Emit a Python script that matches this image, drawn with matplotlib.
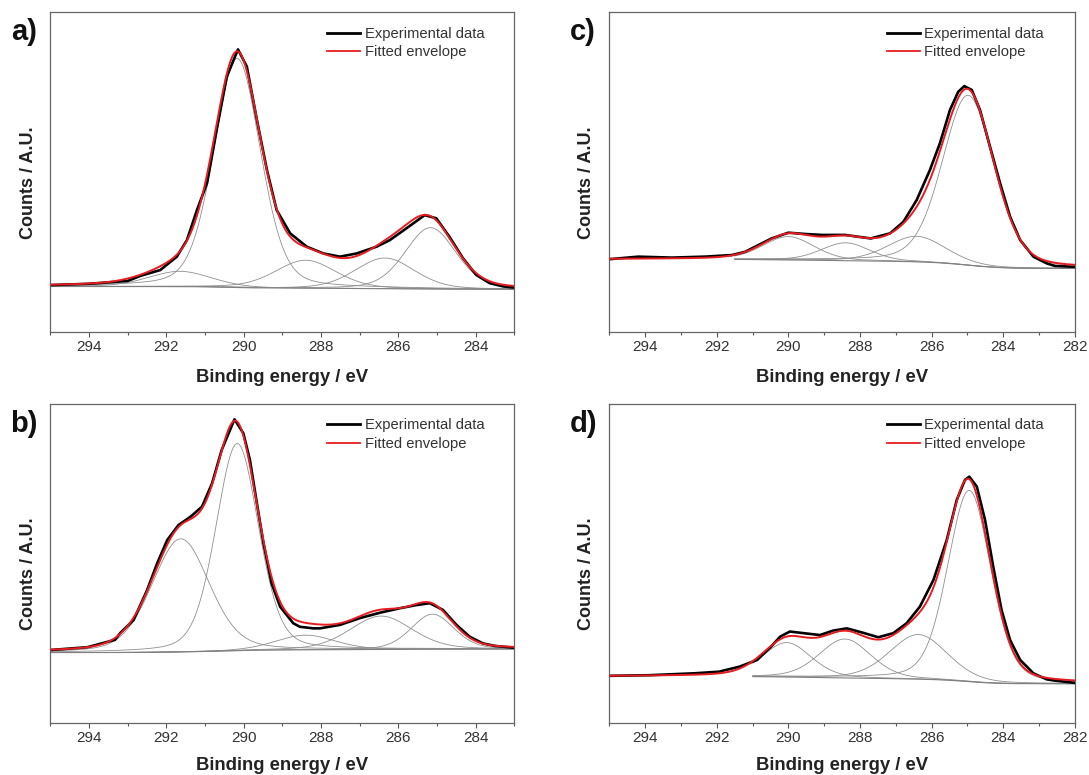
import numpy as np
import matplotlib
matplotlib.use("Agg")
import matplotlib.pyplot as plt
from matplotlib.ticker import MultipleLocator

plt.rcParams['font.family'] = ['Liberation Sans', 'DejaVu Sans']

# ---- panel a ----
a_exp_x = [295.0, 294.0, 293.0, 292.67, 292.16, 291.73, 291.47, 291.21, 290.95, 290.70,
           290.44, 290.15, 289.92, 289.66, 289.40, 289.15, 288.80, 288.37, 287.94, 287.51,
           287.08, 286.57, 286.22, 285.79, 285.32, 285.02, 284.68, 284.33, 283.99, 283.64,
           283.30, 283.00]
a_exp_y = [14.6, 15.0, 15.9, 17.5, 19.3, 23.5, 28.7, 38.1, 46.5, 63.2,
           79.8, 88.4, 83.0, 66.3, 50.6, 38.1, 30.8, 26.6, 24.5, 23.5,
           24.5, 26.6, 28.7, 32.4, 36.5, 35.5, 29.7, 23.0, 17.8, 15.2,
           14.2, 13.8]
a_pos = [291.65, 290.17, 288.4, 286.35, 285.17]
a_height = [4.8, 71.7, 8.8, 9.6, 19.2]
a_fwhm = [1.9, 1.42, 1.85, 1.8, 1.55]
a_bg = [14.15, 13.3]

# ---- panel b ----
b_exp_x = [295.0, 294.04, 293.33, 293.19, 292.85, 292.50, 292.24, 291.98, 291.69, 291.38,
           291.08, 290.82, 290.57, 290.24, 290.01, 289.84, 289.66, 289.49, 289.28, 289.06,
           288.72, 288.55, 288.20, 288.03, 287.51, 287.00, 286.48, 285.97, 285.54, 285.19,
           284.85, 284.50, 284.16, 283.82, 283.51, 283.00]
b_exp_y = [22.8, 23.7, 26.0, 28.2, 32.2, 41.6, 50.0, 57.3, 62.0, 64.6,
           67.8, 75.1, 85.6, 95.2, 90.8, 82.4, 68.8, 56.3, 43.7, 36.4,
           31.2, 30.1, 29.6, 29.6, 30.7, 32.8, 34.5, 35.9, 36.9, 37.5,
           35.4, 30.7, 27.0, 24.9, 24.1, 23.5]
b_pos = [291.63, 290.17, 288.4, 286.45, 285.12]
b_height = [35.5, 65.0, 4.6, 10.5, 11.0]
b_fwhm = [1.75, 1.3, 1.8, 1.9, 1.3]
b_bg = [22.0, 23.1]

# ---- panel c ----
c_exp_x = [295.0, 294.19, 293.26, 292.33, 291.58, 291.21, 290.93, 290.47, 290.0, 289.54,
           289.07, 288.42, 287.70, 287.16, 286.79, 286.42, 286.05, 285.77, 285.49, 285.26,
           285.09, 284.88, 284.65, 284.37, 284.09, 283.81, 283.53, 283.16, 282.79, 282.56,
           282.0]
c_exp_y = [22.7, 23.5, 23.2, 23.5, 24.0, 25.0, 26.6, 29.2, 31.0, 30.6,
           30.3, 30.3, 29.2, 30.8, 34.4, 41.2, 50.6, 59.0, 69.4, 75.1,
           76.9, 75.7, 69.4, 57.9, 46.5, 36.0, 28.7, 23.5, 21.4, 20.6,
           20.3]
c_pos = [290.0, 288.4, 286.42, 284.98]
c_height = [7.3, 5.6, 8.0, 53.2]
c_fwhm = [1.7, 1.6, 1.9, 1.7]
c_bg = [22.65, 19.8]

# ---- panel d ----
d_exp_x = [295.0, 293.88, 292.62, 291.94, 291.36, 290.87, 290.49, 290.23, 289.96, 289.58,
           289.12, 288.75, 288.37, 287.91, 287.49, 287.07, 286.70, 286.33, 285.95, 285.58,
           285.30, 285.07, 284.95, 284.74, 284.51, 284.28, 284.05, 283.81, 283.53, 283.16,
           282.79, 282.56, 282.0]
d_exp_y = [14.7, 14.9, 15.5, 16.0, 17.6, 19.7, 23.8, 27.0, 28.6, 28.1,
           27.5, 28.9, 29.6, 28.2, 26.8, 28.1, 31.2, 36.4, 44.8, 57.3,
           69.9, 76.2, 77.2, 74.1, 63.6, 48.9, 35.4, 25.9, 19.7, 15.5,
           13.6, 13.2, 12.5]
d_pos = [290.05, 288.42, 286.37, 284.95]
d_height = [10.8, 12.2, 14.0, 60.0]
d_fwhm = [1.6, 1.7, 1.9, 1.42]
d_bg = [14.5, 12.2]

lor_mix = 0.25

panels = [
    ('a)', a_exp_x, a_exp_y, a_pos, a_height, a_fwhm, a_bg, (295, 283), (295, 283)),
    ('b)', b_exp_x, b_exp_y, b_pos, b_height, b_fwhm, b_bg, (295, 283), (295, 283)),
    ('c)', c_exp_x, c_exp_y, c_pos, c_height, c_fwhm, c_bg, (295, 282), (291.5, 282)),
    ('d)', d_exp_x, d_exp_y, d_pos, d_height, d_fwhm, d_bg, (295, 282), (291.0, 282)),
]

# axes boxes in figure fractions: left, bottom, width, height
boxes = [
    [0.0463, 0.572, 0.4261, 0.4121],
    [0.0463, 0.0675, 0.4261, 0.4112],
    [0.5595, 0.572, 0.4276, 0.4121],
    [0.5595, 0.0675, 0.4276, 0.4112],
]
xlabel_pad = [11, 8.5, 11, 8.5]


def gl(x, pos, height, fwhm):
    t = (x - pos) / fwhm
    return height * ((1 - lor_mix) * np.exp(-4 * np.log(2) * t ** 2) + lor_mix / (1 + 4 * t ** 2))


fig = plt.figure(figsize=(10.89, 7.75), dpi=100)

for box, lpad, (tag, ex, ey, pos, hts, fw, bg, xlim, win) in zip(boxes, xlabel_pad, panels):
    ax = fig.add_axes(box)
    x = np.linspace(xlim[1], xlim[0], 1500)
    comps = [gl(x, p, h, w) for p, h, w in zip(pos, hts, fw)]
    total = np.sum(comps, axis=0)
    # shirley type step background
    cum = np.concatenate([[0], np.cumsum((total[1:] + total[:-1]) / 2 * np.diff(x))])
    back = bg[1] + (bg[0] - bg[1]) * cum / cum[-1]
    env = total + back

    m = (x <= win[0]) & (x >= win[1])
    for c in comps:
        ax.plot(x[m], (c + back)[m], color='#8f8f8f', lw=0.6, zorder=1)
    ax.plot(x[m], back[m], color='#808080', lw=0.8, zorder=1)

    ax.plot(ex, ey, color='black', lw=1.9, zorder=2, solid_joinstyle='round')
    ax.plot(x, env, color='#e51c20', lw=1.4, zorder=3)

    ax.set_xlim(*xlim)
    ax.set_ylim(0, 100)
    ax.set_yticks([])
    ax.xaxis.set_major_locator(MultipleLocator(2))
    ax.xaxis.set_minor_locator(MultipleLocator(1))
    ax.tick_params(axis='x', which='major', direction='out', length=3.5, width=0.8,
                   colors='#555555', labelcolor='#333333', labelsize=11, pad=2.5)
    ax.tick_params(axis='x', which='minor', direction='out', length=2, width=0.8,
                   colors='#555555')
    for s in ax.spines.values():
        s.set_color('#666666')
        s.set_linewidth(0.9)

    ax.set_xlabel('Binding energy / eV', fontsize=13.3, fontweight='bold', labelpad=lpad,
                  color='#222222')
    ax.set_ylabel('Counts / A.U.', fontsize=13, fontweight='bold', color='#222222')
    ax.yaxis.set_label_coords(-0.03, 0.466)

    h1, = ax.plot([], [], color='black', lw=2.0)
    h2, = ax.plot([], [], color='#e51c20', lw=1.3)
    leg = ax.legend([h1, h2], ['Experimental data', 'Fitted envelope'], loc='upper left',
                    bbox_to_anchor=(0.596, 0.955), frameon=False, fontsize=10.6,
                    handlelength=2.25, handletextpad=0.3, labelspacing=0.3,
                    borderpad=0, borderaxespad=0)
    for t in leg.get_texts():
        t.set_color('#333333')

    fig.text(box[0] - 0.024, box[1] + box[3] - 0.026, tag, fontsize=21, fontweight='bold',
             ha='center', va='center', color='#111111')

fig.savefig('out.png', dpi=100)
